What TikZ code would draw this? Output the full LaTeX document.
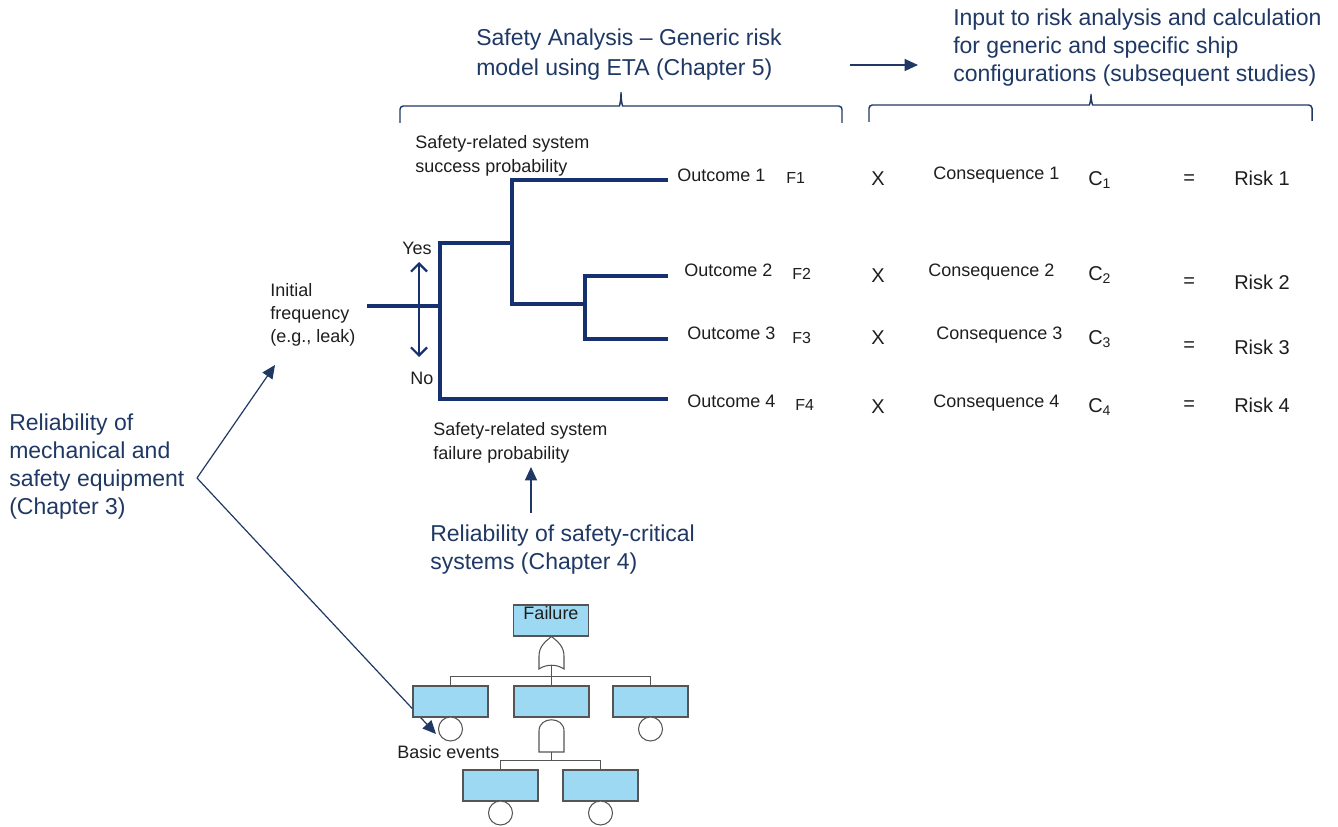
\documentclass[tikz,border=0pt]{standalone}
\usepackage{fontspec}
\setmainfont{Liberation Sans}
\usetikzlibrary{arrows.meta}
\definecolor{navy}{RGB}{31,56,100}
\definecolor{treeblue}{RGB}{22,48,112}
\definecolor{ftfill}{RGB}{157,217,242}
\definecolor{ftline}{RGB}{85,85,85}
\definecolor{txt}{RGB}{30,30,30}
\begin{document}
\begin{tikzpicture}[x=0.75pt,y=-0.75pt,
  sm/.style={font=\fontsize{13.5}{18}\selectfont, text=txt, inner sep=0pt, anchor=west, align=left},
  fsm/.style={font=\fontsize{12}{14}\selectfont, text=txt, inner sep=0pt, anchor=west},
  mid/.style={font=\fontsize{15}{18}\selectfont, text=txt, inner sep=0pt, anchor=west},
  big/.style={font=\fontsize{17.25}{21}\selectfont, text=navy, inner sep=0pt, anchor=west, align=left},
  treeline/.style={draw=treeblue, line width=2.6pt},
  navyarrow/.style={draw=navy, line width=0.9pt, -{Triangle[length=10pt,width=9pt]}},
  bracestyle/.style={draw=navy, line width=1.1pt, rounded corners=2.5pt},
  ftbox/.style={draw=ftline, fill=ftfill, line width=0.9pt, minimum width=56.25pt, minimum height=23.25pt, inner sep=0pt},
  ftcirc/.style={draw=ftline, fill=white, line width=0.8pt, circle, minimum size=18pt, inner sep=0pt},
  ftgate/.style={draw=ftline, fill=white, line width=0.8pt},
  ftconn/.style={draw=ftline, line width=0.8pt}]
\useasboundingbox (0,0) rectangle (1338,827);

% ---------- top texts ----------
\node[big, font=\fontsize{17.25}{22.5}\selectfont] (title1) at (476,55) {Safety Analysis -- Generic risk\\model using ETA (Chapter 5)};
\node[big] (title2) at (953,48) {Input to risk analysis and calculation\\for generic and specific ship\\configurations (subsequent studies)};
\coordinate (ta1) at (850,65);
\coordinate (ta2) at (918,65);
\draw[navyarrow] (ta1) -- (ta2);

% ---------- braces ----------
\coordinate (b1l) at (400,123);
\coordinate (b1t) at (621,90);
\coordinate (b1r) at (842,123);
\draw[bracestyle] (b1l) -- (400,106) -- (616,106) .. controls (619.5,106) and (621,101) .. (b1t) .. controls (621,101) and (622.5,106) .. (626,106) -- (842,106) -- (b1r);
\coordinate (b2l) at (869,122);
\coordinate (b2t) at (1091,92);
\coordinate (b2r) at (1312,121);
\draw[bracestyle] (b2l) -- (869,105) -- (1086,105) .. controls (1089.5,105) and (1091,100) .. (b2t) .. controls (1091,100) and (1092.5,105) .. (1096,105) -- (1312,105) -- (b2r);

% ---------- event tree ----------
\coordinate (init) at (367,306);
\coordinate (s0) at (440,306);
\draw[treeline] (init) -- (s0);
\draw[treeline] (512,243) -- (440,243) -- (440,399) -- (668,399);
\draw[treeline] (668,180) -- (512,180) -- (512,304) -- (585,304);
\draw[treeline] (668,276) -- (585,276) -- (585,339) -- (668,339);
\coordinate (yesarr) at (419,262);
\coordinate (noarr) at (419,357);
\draw[draw=treeblue, line width=1.7pt, {Straight Barb[length=6pt,width=12pt]}-{Straight Barb[length=6pt,width=12pt]}] (yesarr) -- (noarr);

\node[sm] (yes) at (402,248) {Yes};
\node[sm] (no) at (410,378) {No};
\node[sm] (succ) at (415,156) {Safety-related system\\success probability};
\node[sm] (fail) at (433,443) {Safety-related system\\failure probability};
\node[sm, font=\fontsize{13.5}{17.25}\selectfont] (initf) at (270,315) {Initial\\frequency\\(e.g., leak)};

% ---------- outcome rows ----------
\node[sm] (o1) at (677,175) {Outcome 1};
\node[fsm] (f1) at (786,178) {F1};
\node[mid] (x1) at (871,179) {X};
\node[sm] (c1) at (933,175) {Consequence 1};
\node[mid] (cc1) at (1088,180) {C\textsubscript{1}};
\node[mid] (e1) at (1183,180) {=};
\node[mid] (r1) at (1234,178) {Risk 1};

\node[sm] (o2) at (684,270) {Outcome 2};
\node[fsm] (f2) at (792,274) {F2};
\node[mid] (x2) at (871,276) {X};
\node[sm] (c2) at (928,272) {Consequence 2};
\node[mid] (cc2) at (1088,275) {C\textsubscript{2}};
\node[mid] (e2) at (1183,283) {=};
\node[mid] (r2) at (1234,282) {Risk 2};

\node[sm] (o3) at (687,333) {Outcome 3};
\node[fsm] (f3) at (792,338) {F3};
\node[mid] (x3) at (871,338) {X};
\node[sm] (c3) at (936,335) {Consequence 3};
\node[mid] (cc3) at (1088,339) {C\textsubscript{3}};
\node[mid] (e3) at (1183,347) {=};
\node[mid] (r3) at (1234,347) {Risk 3};

\node[sm] (o4) at (687,401) {Outcome 4};
\node[fsm] (f4) at (795,405) {F4};
\node[mid] (x4) at (871,407) {X};
\node[sm] (c4) at (933,403) {Consequence 4};
\node[mid] (cc4) at (1088,407) {C\textsubscript{4}};
\node[mid] (e4) at (1183,406) {=};
\node[mid] (r4) at (1234,405) {Risk 4};

% ---------- left / lower texts and arrows ----------
\node[big] (relmech) at (9,467) {Reliability of\\mechanical and\\safety equipment\\(Chapter 3)};
\node[big] (relsafe) at (430,550) {Reliability of safety-critical\\systems (Chapter 4)};
\coordinate (sa1) at (531,513);
\coordinate (sa2) at (531,467);
\draw[navyarrow] (sa1) -- (sa2);
\coordinate (v) at (197,478);
\coordinate (va) at (275,365);
\coordinate (vb) at (436,734);
\draw[navyarrow] (v) -- (va);
\draw[navyarrow] (v) -- (vb);

% ---------- fault tree ----------
\node[ftbox] (top) at (551,620.5) {};
\node[font=\fontsize{13.5}{16}\selectfont, text=txt, inner sep=0pt] (ftxt) at (551,613) {Failure};
\node[ftbox] (bx1) at (450.5,701.5) {};
\node[ftbox] (bx2) at (551.5,701.5) {};
\node[ftbox] (bx3) at (650.5,701.5) {};
\node[ftbox] (bx4) at (500.5,785.5) {};
\node[ftbox] (bx5) at (600.5,785.5) {};
\node[ftcirc] (ci1) at (450.5,729) {};
\node[ftcirc] (ci3) at (650.5,729) {};
\node[ftcirc] (ci4) at (500.5,813) {};
\node[ftcirc] (ci5) at (600.5,813) {};
% OR gate
\coordinate (orbot) at (551.5,665);
\draw[ftgate] (539,669) -- (539,656) .. controls (539,646) and (546,641) .. (551.5,636.5) .. controls (557,641) and (564,646) .. (564,656) -- (564,669) .. controls (557,664) and (546,664) .. (539,669) -- cycle;
\draw[ftconn] (orbot) -- (551.5,677);
\draw[ftconn] (bx1.north) -- ++(0,-9) -| (bx3.north);
\draw[ftconn] (551.5,677) -- (bx2.north);
% AND gate
\coordinate (andbot) at (551.5,752);
\draw[ftgate] (539,752) -- (539,731) .. controls (539,716) and (564,716) .. (564,731) -- (564,752) -- cycle;
\draw[ftconn] (andbot) -- (551.5,761);
\draw[ftconn] (bx4.north) -- ++(0,-9) -| (bx5.north);
\node[sm] (basic) at (397,752) {Basic events};
\end{tikzpicture}
\end{document}
